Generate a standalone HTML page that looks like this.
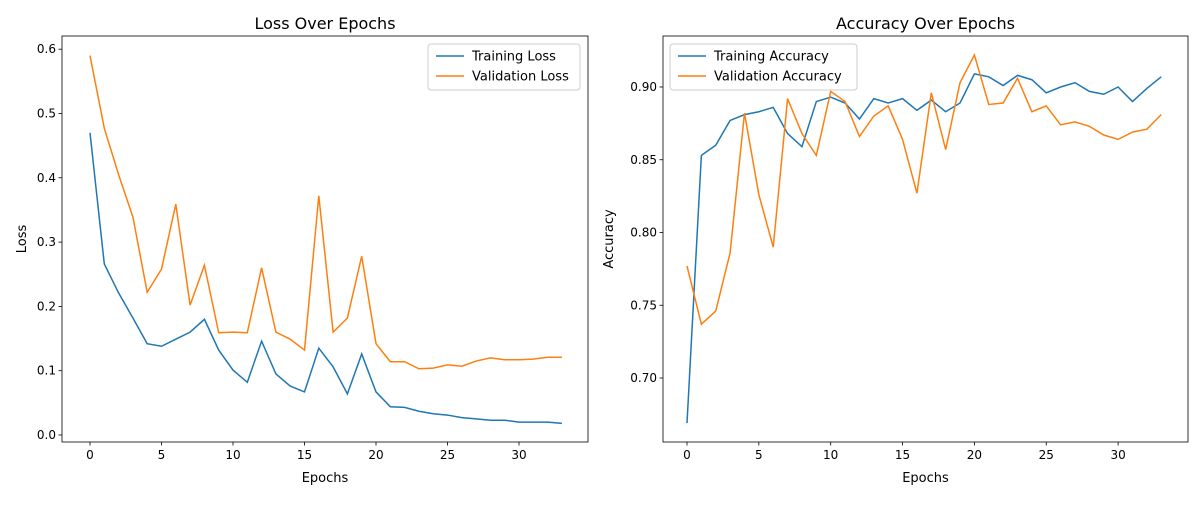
<!DOCTYPE html>
<html><head><meta charset="utf-8"><style>
body{margin:0;background:#fff}
svg text{font-family:"DejaVu Sans","Liberation Sans",sans-serif;fill:#000}
</style></head><body>
<svg id="chart" width="1200" height="500" xmlns="http://www.w3.org/2000/svg"></svg>
<script>
const epochs = Array.from({length:34},(_,i)=>i);
const trainLoss=[0.470,0.266,0.221,0.182,0.142,0.138,0.149,0.160,0.180,0.132,0.101,0.082,0.146,0.095,0.076,0.067,0.135,0.106,0.064,0.126,0.067,0.044,0.043,0.037,0.033,0.031,0.027,0.025,0.023,0.023,0.020,0.020,0.020,0.018];
const valLoss=[0.590,0.477,0.405,0.339,0.222,0.258,0.359,0.202,0.264,0.159,0.160,0.159,0.260,0.160,0.149,0.132,0.372,0.160,0.182,0.278,0.142,0.114,0.114,0.103,0.104,0.109,0.107,0.115,0.120,0.117,0.117,0.118,0.121,0.121];
const trainAcc=[0.669,0.853,0.860,0.877,0.881,0.883,0.886,0.868,0.859,0.890,0.893,0.889,0.878,0.892,0.889,0.892,0.884,0.891,0.883,0.889,0.909,0.907,0.901,0.908,0.905,0.896,0.900,0.903,0.897,0.895,0.900,0.890,0.899,0.907];
const valAcc=[0.777,0.737,0.746,0.786,0.882,0.826,0.790,0.892,0.868,0.853,0.897,0.890,0.866,0.880,0.887,0.864,0.827,0.896,0.857,0.903,0.922,0.888,0.889,0.906,0.883,0.887,0.874,0.876,0.873,0.867,0.864,0.869,0.871,0.881];
const xTicks=[0,5,10,15,20,25,30];
const lossTicks=[0.0,0.1,0.2,0.3,0.4,0.5,0.6];
const accTicks=[0.70,0.75,0.80,0.85,0.90];

const svg=document.getElementById('chart');
const NS='http://www.w3.org/2000/svg';
function mk(tag,attrs,parent){const e=document.createElementNS(NS,tag);for(const k in attrs)e.setAttribute(k,attrs[k]);(parent||svg).appendChild(e);return e;}

function panel(o){
  const g=mk('g',{});
  
  
  const xs=v=>o.x0+(v-0)*o.xpx;
  const ys=v=>o.yref+(v-o.vref)*(-o.ypx);
  // series
  o.series.forEach(s=>{
    const p=mk('polyline',{points:s.data.map((v,i)=>xs(epochs[i])+','+ys(v)).join(' '),fill:'none',stroke:s.color,'stroke-width':1.5},g);
    
    
  });
  // frame
  mk('rect',{x:o.L,y:o.T,width:o.R-o.L,height:o.B-o.T,fill:'none',stroke:'#000','stroke-width':0.8},g);
  xTicks.forEach(t=>{const x=xs(t);mk('line',{x1:x,x2:x,y1:o.B,y2:o.B+3.5,stroke:'#000','stroke-width':0.8},g);
    const tx=mk('text',{x:x,y:o.B+17,'font-size':12,'text-anchor':'middle'},g);tx.textContent=t;
    });
  o.yTicks.forEach(t=>{const y=ys(t);mk('line',{x1:o.L-3.5,x2:o.L,y1:y,y2:y,stroke:'#000','stroke-width':0.8},g);
    const tx=mk('text',{x:o.L-6,y:y+4,'font-size':12,'text-anchor':'end'},g);tx.textContent=t.toFixed(o.dec);
    });
  const ti=mk('text',{x:(o.L+o.R)/2,y:o.T-7,'font-size':16,'text-anchor':'middle'},g);ti.textContent=o.title;
  
  const xl=mk('text',{x:(o.L+o.R)/2,y:482,'font-size':13,'text-anchor':'middle'},g);xl.textContent='Epochs';
  
  const yl=mk('text',{x:0,y:0,'font-size':13,'text-anchor':'middle',transform:`translate(${o.ylx},${(o.T+o.B)/2}) rotate(-90)`},g);yl.textContent=o.ylabel;
  
  // legend
  const lg=mk('g',{},g);
  
  mk('rect',{x:o.lx,y:44,width:o.lw,height:46,rx:3,fill:'#fff',stroke:'#ccc','stroke-width':1},lg);
  o.series.forEach((s,i)=>{const y=56+i*20;
    mk('line',{x1:o.lx+8,x2:o.lx+36,y1:y,y2:y,stroke:s.color,'stroke-width':1.5},lg);
    const t=mk('text',{x:o.lx+44,y:y+4.5,'font-size':13},lg);t.textContent=s.label;
    });
}
panel({name:'loss-panel',L:62,R:588,T:36,B:442,x0:90,xpx:14.3,yref:435,vref:0,ypx:643,yTicks:lossTicks,dec:1,title:'Loss Over Epochs',ylabel:'Loss',ylx:26,lx:428,lw:152,
  series:[{id:'training-loss-line',data:trainLoss,color:'#1f77b4',label:'Training Loss'},{id:'validation-loss-line',data:valLoss,color:'#ff7f0e',label:'Validation Loss'}]});
panel({name:'accuracy-panel',L:663,R:1188,T:36,B:442,x0:687,xpx:14.37,yref:87,vref:0.9,ypx:1455,yTicks:accTicks,dec:2,title:'Accuracy Over Epochs',ylabel:'Accuracy',ylx:613,lx:670,lw:187,
  series:[{id:'training-accuracy-line',data:trainAcc,color:'#1f77b4',label:'Training Accuracy'},{id:'validation-accuracy-line',data:valAcc,color:'#ff7f0e',label:'Validation Accuracy'}]});
</script>
</body></html>
